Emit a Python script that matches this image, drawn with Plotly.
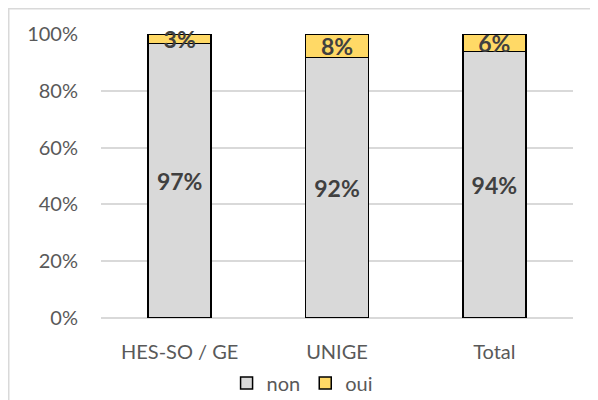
import plotly.graph_objects as go

categories = ["HES-SO / GE", "UNIGE", "Total"]
non_values = [96.6, 91.7, 93.8]
oui_values = [3.4, 8.3, 6.2]
tick_vals = [0, 20, 40, 60, 80, 100]
tick_text = ["0%", "20%", "40%", "60%", "80%", "100%"]

FONT = "Lato"
LBL = 23
L, R, T, B = 93, 25, 26, 82
PW, PH = 472, 284
fig = go.Figure()
fig.add_trace(go.Bar(
    x=categories, y=non_values, name="non",
    marker=dict(color="#d9d9d9", line=dict(color="#000000", width=1.5)),
    text=[f"{round(v)}%" for v in non_values], textposition="inside",
    insidetextanchor="middle", cliponaxis=False,
    textfont=dict(family=FONT, size=LBL, color="#404040", weight="bold"),
))
fig.add_trace(go.Bar(
    x=categories, y=oui_values, name="oui",
    marker=dict(color="#ffd966", line=dict(color="#000000", width=1.5)),
    text=[f"{round(v)}%" for v in oui_values], textposition="inside",
    insidetextanchor="middle", cliponaxis=False,
    textfont=dict(family=FONT, size=LBL, color="#404040", weight="bold"),
))
fig.update_layout(
    barmode="stack", bargap=0.6,
    width=L + PW + R, height=T + PH + B,
    margin=dict(l=L, r=R, t=T, b=B, autoexpand=False),
    paper_bgcolor="white", plot_bgcolor="white",
    font=dict(family=FONT, size=20, color="#595959"),
    uniformtext=dict(minsize=LBL, mode="show"),
    legend=dict(orientation="h", x=0.426, xanchor="center", y=-0.229, yanchor="middle",
                font=dict(size=20, color="#595959"), traceorder="normal",
                itemwidth=30, tracegroupgap=0),
    xaxis=dict(showline=False, ticks="", automargin=False, ticklabelstandoff=20,
               tickfont=dict(size=20, color="#595959")),
    yaxis=dict(range=[0, 100], tickvals=tick_vals, ticktext=tick_text,
               showgrid=True, gridcolor="#d9d9d9", gridwidth=1.5,
               zeroline=True, zerolinecolor="#d9d9d9", zerolinewidth=1.5,
               ticks="", ticklabelstandoff=22, automargin=False,
               tickfont=dict(size=20, color="#595959")),
    shapes=[
        dict(type="line", xref="paper", yref="paper",
             x0=(0.75 - L) / PW, x1=(0.75 - L) / PW, y0=-B / PH, y1=1 + T / PH,
             line=dict(color="#d9d9d9", width=1.5), layer="below"),
        dict(type="line", xref="paper", yref="paper",
             x0=-L / PW, x1=1 + R / PW, y0=1 + (T - 0.75) / PH, y1=1 + (T - 0.75) / PH,
             line=dict(color="#d9d9d9", width=1.5), layer="below"),
    ],
)
fig.write_html("out.html")
